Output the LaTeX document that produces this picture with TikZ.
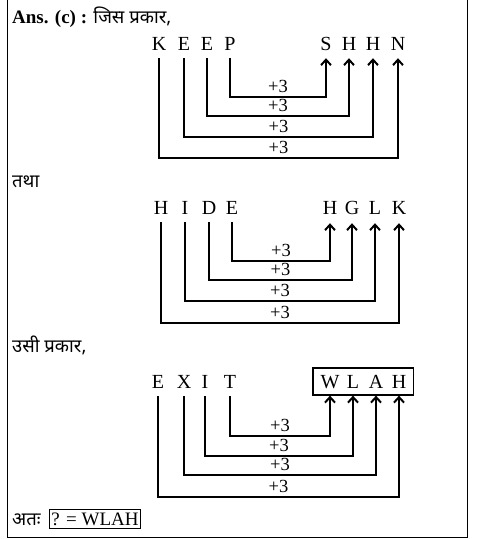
\documentclass[tikz,border=0pt]{standalone}
\usepackage{fontspec}
\setmainfont{Liberation Serif}
\newfontfamily\deva[Script=Devanagari]{Noto Sans}
\usetikzlibrary{arrows.meta, positioning, fit}

\begin{document}
\begin{tikzpicture}[x=1pt, y=-1pt,
    ltr/.style={font=\fontsize{20}{22}\selectfont, inner xsep=0pt, inner ysep=4pt, text height=13.5pt, text depth=0pt, anchor=base},
    txt/.style={font=\fontsize{18.5}{20}\selectfont\deva, anchor=base west, inner sep=0pt},
    conn/.style={line width=2pt, shorten <=4pt, -{Straight Barb[length=5.5pt,width=10pt]}},
    plus/.style={pos=0.25, above, inner xsep=0pt, inner ysep=4pt, font=\fontsize{18.5}{20}\selectfont}
]
    \useasboundingbox (0,0) rectangle (482,539);
    \draw[line width=1pt] (7.5,0) -- (7.5,537) -- (467.5,537) -- (467.5,0);

    \node[anchor=base west, inner sep=0pt, font=\fontsize{19}{21}\selectfont] (title) at (12,23) {\textbf{Ans. (c) :} {\deva\fontsize{18.5}{20}\selectfont जिस प्रकार,}};

    % KEEP -> SHHN
    \node[ltr] (a1) at (159,50) {K};
    \node[ltr] (a2) at (184,50) {E};
    \node[ltr] (a3) at (207,50) {E};
    \node[ltr] (a4) at (230,50) {P};
    \node[ltr] (b1) at (326,50) {S};
    \node[ltr] (b2) at (349,50) {H};
    \node[ltr] (b3) at (373,50) {H};
    \node[ltr] (b4) at (398,50) {N};
    \draw[conn, shorten >=4pt] (a4.south) -- ++(0,43) -| node[plus] {+3} (b1.south);
    \draw[conn, shorten >=4pt] (a3.south) -- ++(0,62) -| node[plus] {+3} (b2.south);
    \draw[conn, shorten >=4pt] (a2.south) -- ++(0,83) -| node[plus] {+3} (b3.south);
    \draw[conn, shorten >=4pt] (a1.south) -- ++(0,104) -| node[plus] {+3} (b4.south);

    \node[txt] (tatha) at (12,187) {तथा};

    % HIDE -> HGLK
    \node[ltr] (c1) at (161,214) {H};
    \node[ltr] (c2) at (185,214) {I};
    \node[ltr] (c3) at (209,214) {D};
    \node[ltr] (c4) at (232,214) {E};
    \node[ltr] (d1) at (330,214) {H};
    \node[ltr] (d2) at (352,214) {G};
    \node[ltr] (d3) at (375,214) {L};
    \node[ltr] (d4) at (399,214) {K};
    \draw[conn, shorten >=5pt] (c4.south) -- ++(0,43) -| node[plus] {+3} (d1.south);
    \draw[conn, shorten >=5pt] (c3.south) -- ++(0,62) -| node[plus] {+3} (d2.south);
    \draw[conn, shorten >=5pt] (c2.south) -- ++(0,83) -| node[plus] {+3} (d3.south);
    \draw[conn, shorten >=5pt] (c1.south) -- ++(0,105) -| node[plus] {+3} (d4.south);

    \node[txt] (usi) at (12,352) {उसी प्रकार,};

    % EXIT -> WLAH
    \node[ltr] (e1) at (158,388) {E};
    \node[ltr] (e2) at (184,388) {X};
    \node[ltr] (e3) at (205,388) {I};
    \node[ltr] (e4) at (230,388) {T};
    \node[ltr] (f1) at (330,388) {W};
    \node[ltr] (f2) at (353,388) {L};
    \node[ltr] (f3) at (376,388) {A};
    \node[ltr] (f4) at (399,388) {H};
    \node[draw, line width=1.8pt, fit=(f1)(f4), inner xsep=7pt, inner ysep=2.5pt] (wlah) {};
    \draw[conn] (e4.south) -- ++(0,44) -| node[plus] {+3} (f1 |- wlah.south);
    \draw[conn] (e3.south) -- ++(0,64) -| node[plus] {+3} (f2 |- wlah.south);
    \draw[conn] (e2.south) -- ++(0,83) -| node[plus] {+3} (f3 |- wlah.south);
    \draw[conn] (e1.south) -- ++(0,105) -| node[plus] {+3} (f4 |- wlah.south);

    \node[txt] (atah) at (12,525) {अतः};
    \node[draw, line width=0.8pt, anchor=base west, inner xsep=2pt, inner ysep=3pt, font=\fontsize{19}{21}\selectfont] (ans) at (49,525) {? = WLAH};
\end{tikzpicture}
\end{document}
